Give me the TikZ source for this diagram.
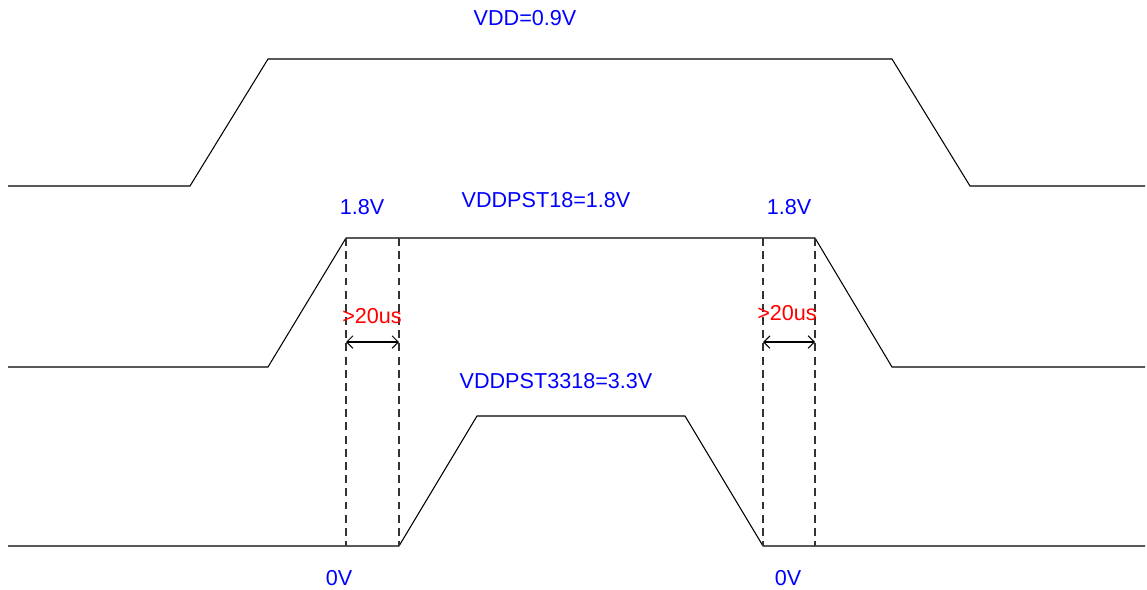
\documentclass[tikz,border=0pt]{standalone}
\usepackage{fontspec}
\setmainfont{Liberation Sans}
\usetikzlibrary{arrows.meta}

\tikzset{
  wave/.style={line width=0.6pt},
  guide/.style={line width=0.6pt,dash pattern=on 4.5pt off 3pt,black!80},
  gap/.style={line width=0.6pt,{Straight Barb[length=3.5pt,width=7pt]}-{Straight Barb[length=3.5pt,width=7pt]}},
  lbl/.style={text=blue,font=\fontsize{12.3}{14}\selectfont,inner sep=0pt},
  lblred/.style={text=red,font=\fontsize{12.3}{14}\selectfont,inner sep=0pt}
}

\begin{document}
\begin{tikzpicture}[x=0.02cm,y=-0.02cm]
            \useasboundingbox (0,0) rectangle (1147,589);

            % VDD
            \draw[wave] (8,186) -- (190,186) -- (268,59) -- (892,59) -- (970,186) -- (1145,186);
            % VDDPST18
            \coordinate (r18) at (346,238);
            \coordinate (f18) at (815,238);
            \draw[wave] (8,367) -- (268,367) -- (r18) -- (f18) -- (892,367) -- (1145,367);
            % VDDPST3318
            \coordinate (r33) at (399,546);
            \coordinate (f33) at (763,546);
            \draw[wave] (8,546) -- (r33) -- (477,416) -- (685,416) -- (f33) -- (1145,546);

            \coordinate (a1) at (399,238);
            \coordinate (b1) at (346,546);
            \coordinate (a2) at (763,238);
            \coordinate (b2) at (815,546);
            \draw[guide] (r18) -- (b1);
            \draw[guide] (a1) -- (r33);
            \draw[guide] (a2) -- (f33);
            \draw[guide] (f18) -- (b2);

            \coordinate (p1) at (346,342);
            \coordinate (q1) at (399,342);
            \coordinate (p2) at (763,342);
            \coordinate (q2) at (815,342);
            \draw[gap] (p1) -- (q1);
            \draw[gap] (p2) -- (q2);

            \node[lblred] (t1) at (372,316){>20us};
            \node[lblred] (t2) at (787,313){>20us};

            \node[lbl] (vdd) at (525,18){VDD=0.9V};
            \node[lbl] (vdd18) at (546,200){VDDPST18=1.8V};
            \node[lbl] (vdd33) at (556,381){VDDPST3318=3.3V};
            \node[lbl] (h1) at (362,207){1.8V};
            \node[lbl] (h2) at (789,207){1.8V};
            \node[lbl] (l1) at (339,578){0V};
            \node[lbl] (l2) at (788,578){0V};
\end{tikzpicture}
\end{document}
